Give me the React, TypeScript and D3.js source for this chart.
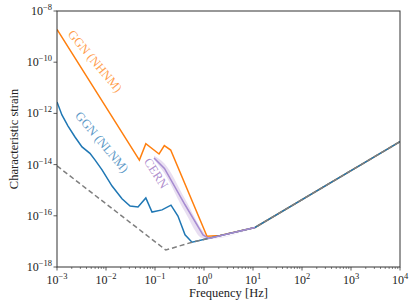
import React from 'react';
import * as d3 from 'd3';

// frequencies [Hz] and characteristic strain
const nlnmFreq = [0.001, 0.00126, 0.00168, 0.00233, 0.00324, 0.0047, 0.006, 0.0083, 0.0133, 0.0212, 0.031, 0.045, 0.065, 0.087, 0.139, 0.212, 0.294, 0.41, 0.57, 11, 1e4];
const nlnmStrain = [2.8e-12, 8.7e-13, 3.2e-13, 1.2e-13, 4.9e-14, 2.75e-14, 1.5e-14, 6.2e-15, 1.45e-15, 4.6e-16, 2.4e-16, 2.2e-16, 5.0e-16, 1.4e-16, 1.7e-16, 2.6e-16, 9.8e-17, 1.8e-17, 9.3e-18, 3.5e-17, 7.9e-14];

const nhnmFreq = [0.001, 0.048, 0.065, 0.121, 0.155, 0.209, 1.15, 2.12, 11, 1e4];
const nhnmStrain = [1.9e-9, 1.5e-14, 6.6e-14, 2.6e-14, 5.5e-14, 3.7e-14, 1.6e-17, 1.7e-17, 3.5e-17, 7.9e-14];

const floorFreq = [0.001, 0.166, 0.57, 11, 1e4];
const floorStrain = [8.9e-15, 4.6e-18, 9.3e-18, 3.5e-17, 7.9e-14];

const cernFreq = [0.0955, 0.156, 0.41, 0.955, 1.26, 11];
const cernStrain = [1.8e-14, 7.1e-15, 2.7e-16, 1.8e-17, 1.3e-17, 3.5e-17];
const cernUpper = [2.2e-14, 1.1e-14, 4.5e-16, 2.5e-17, 1.35e-17, 3.5e-17];
const cernLower = [1.6e-14, 4.5e-15, 1.4e-16, 1.3e-17, 1.26e-17, 3.5e-17];

const xTickExps = [-3, -2, -1, 0, 1, 2, 3, 4];
const yTickExps = [-8, -10, -12, -14, -16, -18];

const W = 415;
const H = 308;
const margin = { top: 11, right: 15, bottom: 41, left: 57 };
const txt: React.CSSProperties = { fontFamily: "'Liberation Serif', 'DejaVu Serif', serif" };

const zip = (a: number[], b: number[]) => a.map((v, i) => [v, b[i]] as [number, number]);

const expLabel = (e: number) => (e < 0 ? '\u2212' + Math.abs(e) : String(e));

const App: React.FC = () => {
  const x = d3.scaleLog().domain([1e-3, 1e4]).range([margin.left, W - margin.right]);
  const y = d3.scaleLog().domain([1e-18, 1e-8]).range([H - margin.bottom, margin.top]);
  const x0 = margin.left;
  const x1 = W - margin.right;
  const y0 = H - margin.bottom;
  const y1 = margin.top;

  const line = d3.line<[number, number]>()
    .x(d => x(d[0]))
    .y(d => y(d[1]));

  const band = d3.area<number>()
    .x(i => x(cernFreq[i]))
    .y0(i => y(cernLower[i]))
    .y1(i => y(cernUpper[i]))
    .curve(d3.curveMonotoneX);

  const minor: number[] = [];
  xTickExps.slice(0, -1).forEach(e => {
    for (let k = 2; k <= 9; k++) minor.push(k * Math.pow(10, e));
  });

  return (
    <svg width={W} height={H} style={{ position: 'absolute', left: 0, top: 0, background: '#fff' }}>
      <defs>
        <clipPath id="plot">
          <rect x={x0} y={y1} width={x1 - x0} height={y0 - y1} />
        </clipPath>
      </defs>

      <g clipPath="url(#plot)" fill="none">
        <path d={band(cernFreq.map((_, i) => i)) || ''} fill="#9467bd" fillOpacity={0.22} stroke="none" />
        <path d={line(zip(nhnmFreq, nhnmStrain)) || ''} stroke="#ff7f0e" strokeWidth={1.5} />
        <path d={line(zip(nlnmFreq, nlnmStrain)) || ''} stroke="#1f77b4" strokeWidth={1.5} />
        <path d={line(zip(floorFreq, floorStrain)) || ''} stroke="#7f7f7f" strokeWidth={1.5} strokeDasharray="5,3" />
        <path d={line(zip(cernFreq, cernStrain)) || ''} stroke="#a68bd1" strokeWidth={1.5} />
      </g>

      {/* curve labels */}
      <text style={txt} transform="translate(94,62) rotate(50)" textAnchor="middle" dominantBaseline="middle" fontSize={12.5} fill="#ff7f0e" fillOpacity={0.75}>GGN (NHNM)</text>
      <text style={txt} transform="translate(101,143) rotate(50)" textAnchor="middle" dominantBaseline="middle" fontSize={12.5} fill="#1f77b4" fillOpacity={0.75}>GGN (NLNM)</text>
      <text style={txt} transform="translate(155,174) rotate(57)" textAnchor="middle" dominantBaseline="middle" fontSize={12.5} fill="#9467bd" fillOpacity={0.75}>CERN</text>

      {/* frame */}
      <rect x={x0} y={y1} width={x1 - x0} height={y0 - y1} fill="none" stroke="#333" strokeWidth={1} />

      {/* x ticks */}
      {minor.map(v => (
        <line key={'m' + v} x1={x(v)} x2={x(v)} y1={y0} y2={y0 + 2} stroke="#333" strokeWidth={0.6} />
      ))}
      {xTickExps.map(e => (
        <g key={'x' + e}>
          <line x1={x(Math.pow(10, e))} x2={x(Math.pow(10, e))} y1={y0} y2={y0 + 3.5} stroke="#333" strokeWidth={0.8} />
          <text style={txt} x={x(Math.pow(10, e))} y={y0 + 17} textAnchor="middle" fontSize={12} fill="#222">
            10<tspan dy={-5} fontSize={8.5}>{expLabel(e)}</tspan>
          </text>
        </g>
      ))}

      {/* y ticks */}
      {yTickExps.map(e => (
        <g key={'y' + e}>
          <line x1={x0 - 3.5} x2={x0} y1={y(Math.pow(10, e))} y2={y(Math.pow(10, e))} stroke="#333" strokeWidth={0.8} />
          <text style={txt} x={x0 - 5} y={y(Math.pow(10, e)) + 4} textAnchor="end" fontSize={12} fill="#222">
            10<tspan dy={-5} fontSize={8.5}>{expLabel(e)}</tspan>
          </text>
        </g>
      ))}

      <text style={txt} x={(x0 + x1) / 2} y={297} textAnchor="middle" fontSize={12.5} fill="#222">Frequency [Hz]</text>
      <text style={txt} transform={`translate(15,${(y0 + y1) / 2}) rotate(-90)`} textAnchor="middle" dominantBaseline="middle" fontSize={12.5} fill="#222">Characteristic strain</text>
    </svg>
  );
};

export default App;
